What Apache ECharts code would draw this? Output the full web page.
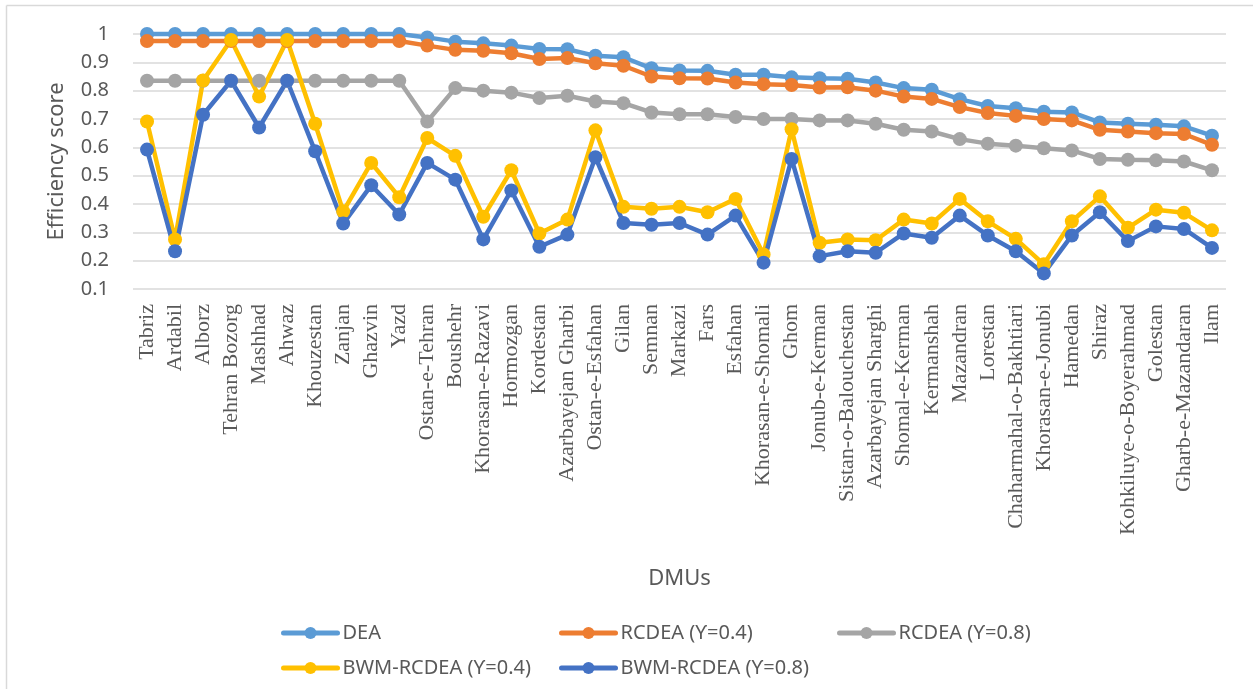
<!DOCTYPE html>
<html>
<head>
<meta charset="utf-8">
<script src="https://cdn.jsdelivr.net/npm/echarts@6/dist/echarts.min.js"></script>
<style>html,body{margin:0;padding:0;background:#fff}#c{width:1253px;height:689px}</style>
</head>
<body>
<div id="c"></div>
<script>
const categories = ["Tabriz","Ardabil","Alborz","Tehran Bozorg","Mashhad","Ahwaz","Khouzestan","Zanjan","Ghazvin","Yazd","Ostan-e-Tehran","Boushehr","Khorasan-e-Razavi","Hormozgan","Kordestan","Azarbayejan Gharbi","Ostan-e-Esfahan","Gilan","Semnan","Markazi","Fars","Esfahan","Khorasan-e-Shomali","Ghom","Jonub-e-Kerman","Sistan-o-Balouchestan","Azarbayejan Sharghi","Shomal-e-Kerman","Kermanshah","Mazandran","Lorestan","Chaharmahal-o-Bakhtiari","Khorasan-e-Jonubi","Hamedan","Shiraz","Kohkiluye-o-Boyerahmad","Golestan","Gharb-e-Mazandaran","Ilam"];
const dea = [1,1,1,1,1,1,1,1,1,1,0.988,0.973,0.967,0.959,0.947,0.946,0.923,0.918,0.879,0.871,0.87,0.856,0.856,0.847,0.844,0.842,0.829,0.809,0.803,0.77,0.746,0.738,0.726,0.723,0.688,0.683,0.68,0.674,0.641];
const rcdea04 = [0.975,0.975,0.975,0.975,0.975,0.975,0.975,0.975,0.975,0.975,0.959,0.944,0.941,0.932,0.912,0.915,0.897,0.888,0.85,0.844,0.843,0.829,0.823,0.82,0.811,0.812,0.80,0.779,0.771,0.742,0.721,0.711,0.70,0.695,0.662,0.656,0.65,0.647,0.609];
const rcdea08 = [0.835,0.835,0.835,0.835,0.835,0.835,0.835,0.835,0.835,0.835,0.691,0.809,0.80,0.793,0.774,0.782,0.762,0.756,0.723,0.717,0.717,0.707,0.70,0.70,0.695,0.695,0.683,0.662,0.656,0.629,0.613,0.606,0.597,0.589,0.559,0.556,0.554,0.55,0.519];
const bwm04 = [0.691,0.275,0.836,0.979,0.779,0.979,0.683,0.374,0.545,0.424,0.633,0.570,0.355,0.519,0.296,0.345,0.66,0.39,0.383,0.39,0.371,0.418,0.222,0.664,0.263,0.275,0.272,0.345,0.331,0.418,0.339,0.277,0.187,0.339,0.427,0.316,0.38,0.369,0.307];
const bwm08 = [0.592,0.233,0.715,0.835,0.67,0.835,0.586,0.331,0.466,0.363,0.545,0.486,0.275,0.448,0.249,0.292,0.565,0.333,0.327,0.333,0.292,0.359,0.193,0.559,0.216,0.233,0.228,0.296,0.281,0.359,0.289,0.233,0.155,0.289,0.371,0.269,0.321,0.312,0.245];
const seriesNames = ["DEA","RCDEA (ϒ=0.4)","RCDEA (ϒ=0.8)","BWM-RCDEA (ϒ=0.4)","BWM-RCDEA (ϒ=0.8)"];
const seriesColors = ["#5B9BD5","#ED7D31","#A5A5A5","#FFC000","#4472C4"];
const seriesData = [dea, rcdea04, rcdea08, bwm04, bwm08];

const chart = echarts.init(document.getElementById('c'), null, {renderer:'canvas'});
const legendPos = [[281,623],[559,623],[837,623],[281,658],[559,658]];
const txt = '#595959';
chart.setOption({
  animation: false,
  backgroundColor: '#fff',
  grid: {left:133, right:27, top:34, bottom:400, containLabel:false, outerBoundsMode:'none'},
  legend: seriesNames.map((n,i)=>({
    data:[n], left:legendPos[i][0], top:legendPos[i][1], padding:0,
    itemWidth:54, itemHeight:15,
    lineStyle:{width:5, cap:'round'},
    textStyle:{color:txt, fontFamily:'Noto Sans', fontSize:20}
  })),
  xAxis: {
    type:'category', data:categories, boundaryGap:true,
    axisLine:{show:false}, axisTick:{show:false},
    axisLabel:{rotate:90, interval:0, margin:15, color:txt, fontFamily:'Liberation Serif', fontSize:22},
    name:'DMUs', nameLocation:'middle', nameGap:279,
    nameTextStyle:{color:txt, fontFamily:'Noto Sans', fontSize:22}
  },
  yAxis: {
    type:'value', min:0.1, max:1, interval:0.1,
    axisLine:{show:false}, axisTick:{show:false},
    splitLine:{lineStyle:{color:'#d9d9d9', width:1.5}},
    axisLabel:{margin:24, color:txt, fontFamily:'Noto Sans', fontSize:20,
      formatter:v=>String(Math.round(v*10)/10)},
    name:'Efficiency score', nameLocation:'middle', nameGap:65, nameRotate:90,
    nameTextStyle:{color:txt, fontFamily:'Noto Sans', fontSize:22}
  },
  graphic:[
    {type:'line', shape:{x1:6.5,y1:5.5,x2:1253,y2:5.5}, style:{stroke:'#d9d9d9', lineWidth:1.5}, silent:true},
    {type:'line', shape:{x1:6.5,y1:5.5,x2:6.5,y2:689}, style:{stroke:'#d9d9d9', lineWidth:1.5}, silent:true}
  ],
  series: seriesNames.map((n,i)=>({
    name:n, type:'line', data:seriesData[i], clip:false,
    symbol:'circle', symbolSize:14, showSymbol:true,
    lineStyle:{color:seriesColors[i], width:4.5},
    itemStyle:{color:seriesColors[i]},
    emphasis:{disabled:true}
  }))
});
</script>
</body>
</html>
